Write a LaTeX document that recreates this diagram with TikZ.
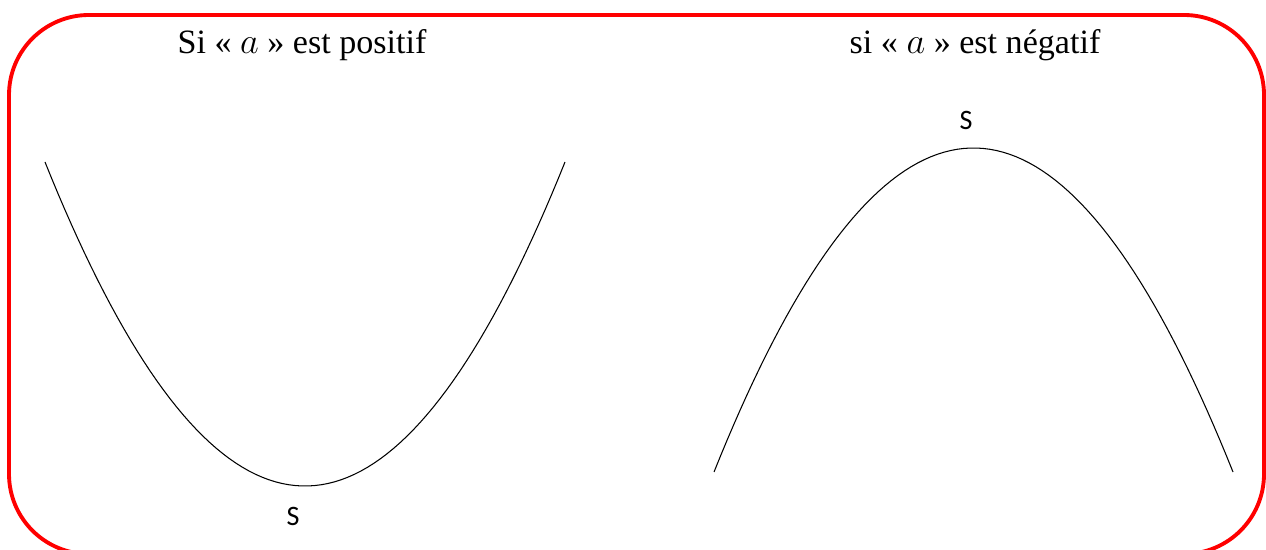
\documentclass[tikz,border=0pt]{standalone}
\usepackage{fontspec}
\setmainfont{Liberation Serif}
\newfontfamily\labelfont{Carlito}
\usepackage{tikz}
\usetikzlibrary{positioning}

\begin{document}
\begin{tikzpicture}[x=0.02cm, y=-0.02cm,
        title/.style={font=\fontsize{19.4}{22}\selectfont},
        vertexlabel/.style={font=\labelfont\fontsize{16}{18}\selectfont},
        curve/.style={line width=0.6pt, black}]
    \useasboundingbox (0,0) rectangle (1266,550);
    \clip (0,0) rectangle (1266,550);

    % Frame
    \draw[red, line width=2.2pt, rounded corners=1.6cm] (9,15) rectangle (1264,554);

    % Titles
    \node[title] (titlepos) at (302,45) {Si « $a$ » est positif};
    \node[title] (titleneg) at (975,45) {si « $a$ » est négatif};

    % Parabola opening upwards
    \draw[curve] plot[domain=-260:260, samples=80] ({305+\x}, {486-324*(\x/260)^2});
    \coordinate (vmin) at (305,486);
    \node[vertexlabel] (smin) at (293,516) {S};

    % Parabola opening downwards
    \draw[curve] plot[domain=-259.5:259.5, samples=80] ({973.5+\x}, {148+324*(\x/259.5)^2});
    \coordinate (vmax) at (973.5,148);
    \node[vertexlabel] (smax) at (966,120) {S};
\end{tikzpicture}
\end{document}
